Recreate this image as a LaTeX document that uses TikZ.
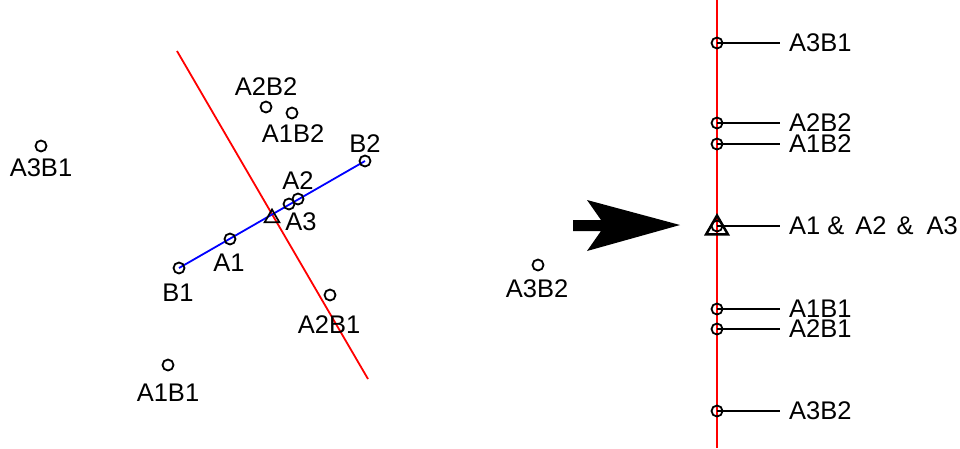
\documentclass[tikz,border=0pt]{standalone}
\usepackage{fontspec}
\setmainfont{Liberation Sans}
\usetikzlibrary{shapes.geometric}
\begin{document}
\begin{tikzpicture}[x=1pt,y=-1pt,
  pt/.style={circle,draw=black,line width=1.8pt,minimum size=11pt,inner sep=0pt},
  tri/.style={regular polygon,regular polygon sides=3,draw=black,line width=1.7pt,inner sep=0pt},
  lbl/.style={inner sep=0pt,font=\fontsize{25.5}{30}\selectfont},
  rlbl/.style={lbl,anchor=west},
  redline/.style={draw=red,line width=1.8pt},
  blueline/.style={draw=blue,line width=1.8pt},
  leader/.style={draw=black,line width=1.6pt,shorten >=9pt}
]
\useasboundingbox (0,0) rectangle (960,448);

% ---------- left: scattered points ----------
\coordinate (rtop) at (177,51);
\coordinate (rbot) at (368,379);
\draw[redline] (rtop) -- (rbot);

\coordinate (cB1) at (179,268);
\coordinate (cB2) at (365,161);
\draw[blueline] (cB1) -- (cB2);
\node[pt] (B1) at (cB1) {};
\node[pt] (A1) at (230,239) {};
\node[pt] (A3) at (289,204) {};
\node[pt] (A2) at (298,199) {};
\node[pt] (B2) at (cB2) {};
\node[tri,minimum size=17pt] (T1) at (272,218) {};

\node[pt] (A2B2) at (266,107) {};
\node[pt] (A1B2) at (292,113) {};
\node[pt] (A3B1) at (41,146) {};
\node[pt] (A2B1) at (330,295) {};
\node[pt] (A1B1) at (168,365) {};
\node[pt] (A3B2) at (538,265) {};

\node[lbl] (lA2B2) at (266,87) {A2B2};
\node[lbl] (lA1B2) at (293,134) {A1B2};
\node[lbl] (lB2) at (365,144) {B2};
\node[lbl] (lA2) at (298,181) {A2};
\node[lbl] (lA3) at (301,222) {A3};
\node[lbl] (lA1) at (229,263) {A1};
\node[lbl] (lB1) at (178,293) {B1};
\node[lbl] (lA2B1) at (329,325) {A2B1};
\node[lbl] (lA1B1) at (168,393) {A1B1};
\node[lbl] (lA3B1) at (41,168) {A3B1};
\node[lbl] (lA3B2) at (537,289) {A3B2};

% ---------- arrow ----------
\fill[black] (573,220) -- (601,220) -- (587,200) -- (680,225) -- (587,251) -- (601,231) -- (573,231) -- cycle;

% ---------- right: projection ----------
\coordinate (vtop) at (717,0);
\coordinate (vbot) at (717,448);
\draw[redline] (vtop) -- (vbot);

\node[pt] (r1) at (717,43) {};
\node[pt] (r2) at (717,123) {};
\node[pt] (r3) at (717,144) {};
\node[pt] (r4) at (717,226) {};
\node[tri,minimum size=25pt,line width=2.5pt] (rT) at (717,228) {};
\node[pt] (r5) at (717,309) {};
\node[pt] (r6) at (717,329) {};
\node[pt] (r7) at (717,411) {};

\node[rlbl] (l1) at (789,43) {A3B1};
\node[rlbl] (l2) at (789,123) {A2B2};
\node[rlbl] (l3) at (789,144) {A1B2};
\node[rlbl] (l4) at (789,226) {A1\hspace{7pt}\&\hspace{11pt}A2\hspace{10pt}\&\hspace{13pt}A3};
\node[rlbl] (l5) at (789,309) {A1B1};
\node[rlbl] (l6) at (789,329) {A2B1};
\node[rlbl] (l7) at (789,411) {A3B2};

\foreach \i in {1,...,7} \draw[leader] (r\i.center) -- (r\i.center -| l\i.west);
\end{tikzpicture}
\end{document}
